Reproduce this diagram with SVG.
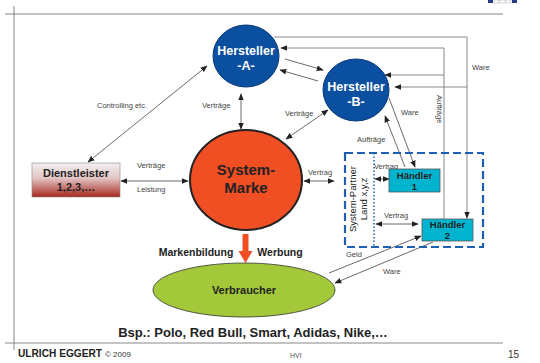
<svg xmlns="http://www.w3.org/2000/svg" width="540" height="363" viewBox="0 0 540 363">
<style>
text{font-family:"Liberation Sans",Arial,sans-serif}
.lbl{font-size:7.5px;fill:#444}
.wb{font-weight:bold;fill:#fff;font-size:12.5px;text-anchor:middle}
.db{font-weight:bold;fill:#222;text-anchor:middle}
.ln{stroke:#444;stroke-width:0.8;fill:none}
.gl{stroke:#888;stroke-width:1;fill:none}
</style>
<defs>
<marker id="ah" viewBox="0 0 10 10" refX="9" refY="5" markerWidth="7" markerHeight="7" orient="auto-start-reverse" markerUnits="userSpaceOnUse">
<path d="M0,1 L10,5 L0,9 z" fill="#222"/>
</marker>
<linearGradient id="dg" x1="0" y1="0" x2="0" y2="1">
<stop offset="0" stop-color="#f4f0f0"/>
<stop offset="0.45" stop-color="#e2c4c4"/>
<stop offset="1" stop-color="#a8281c"/>
</linearGradient>
</defs>
<rect width="540" height="363" fill="#fff"/>
<g id="frame">
<line x1="5" y1="14" x2="503" y2="14" stroke="#888" stroke-width="1"/>
<line x1="14" y1="6" x2="14" y2="350" stroke="#666" stroke-width="0.8"/>
<line x1="5" y1="343" x2="503" y2="343" stroke="#888" stroke-width="1"/>
<rect x="488" y="0" width="5" height="3" fill="#2a3a8a"/>
<rect x="494" y="0" width="5" height="3" fill="#fff" stroke="#aab" stroke-width="0.5"/>
<rect x="500" y="0" width="5" height="3" fill="#fff" stroke="#aab" stroke-width="0.5"/>
<rect x="506" y="0" width="5" height="3" fill="#fff" stroke="#aab" stroke-width="0.5"/>
<rect x="512" y="0" width="5" height="3" fill="#2a3a8a"/>
</g>
<g id="connectors">
<line class="ln" x1="88" y1="162" x2="207" y2="66" marker-start="url(#ah)" marker-end="url(#ah)"/>
<line class="ln" x1="241" y1="94" x2="241" y2="129" marker-start="url(#ah)" marker-end="url(#ah)"/>
<line class="ln" x1="286" y1="139" x2="328" y2="110" marker-start="url(#ah)" marker-end="url(#ah)"/>
<line class="ln" x1="285" y1="59" x2="323" y2="70" marker-end="url(#ah)"/>
<line class="ln" x1="318" y1="81" x2="280" y2="70" marker-end="url(#ah)"/>
<line class="ln" x1="121" y1="181" x2="188" y2="181" marker-start="url(#ah)" marker-end="url(#ah)"/>
<line class="ln" x1="304" y1="181" x2="334" y2="181" marker-start="url(#ah)" marker-end="url(#ah)"/>
<polyline class="gl" points="274,37 467,37 467,218" marker-end="url(#ah)"/>
<line class="gl" x1="467" y1="87" x2="395" y2="87" marker-end="url(#ah)"/>
<polyline class="gl" points="444,219 444,48 281,48" marker-end="url(#ah)"/>
<line class="gl" x1="444" y1="75" x2="385" y2="75" marker-end="url(#ah)"/>
<line class="ln" x1="389" y1="98" x2="415" y2="167" marker-end="url(#ah)"/>
<line class="ln" x1="405" y1="167" x2="385" y2="116" marker-end="url(#ah)"/>
<line class="ln" x1="375" y1="179" x2="389" y2="179" marker-start="url(#ah)" marker-end="url(#ah)"/>
<line class="ln" x1="376" y1="224" x2="418" y2="224" marker-start="url(#ah)" marker-end="url(#ah)"/>
<line class="ln" x1="329" y1="273" x2="421" y2="236" marker-end="url(#ah)"/>
<line class="ln" x1="433" y1="242" x2="335" y2="283" marker-end="url(#ah)"/>
<path d="M242.5,234 h6 v17 h4 l-7,12 l-7,-12 h4 z" fill="#f04e23"/>
</g>
<g class="labels">
<text class="lbl" x="97" y="108">Controlling etc.</text>
<text class="lbl" x="202" y="108">Verträge</text>
<text class="lbl" x="285" y="116">Verträge</text>
<text class="lbl" x="137" y="168">Verträge</text>
<text class="lbl" x="137" y="192">Leistung</text>
<text class="lbl" x="308" y="175">Vertrag</text>
<text class="lbl" x="472" y="70">Ware</text>
<text class="lbl" x="401" y="115">Ware</text>
<text class="lbl" x="357" y="142">Aufträge</text>
<text class="lbl" transform="translate(437,95) rotate(90)">Aufträge</text>
<text class="lbl" x="374" y="169">Vertrag</text>
<text class="lbl" x="384" y="218">Vertrag</text>
<text class="lbl" x="346" y="257">Geld</text>
<text class="lbl" x="383" y="274">Ware</text>
<text class="db" x="196" y="256" font-size="10.5">Markenbildung</text>
<text class="db" x="280" y="256" font-size="10.5">Werbung</text>
</g>
<g id="hersteller-a">
<ellipse cx="246" cy="56" rx="33" ry="31" fill="#0a4fa0" stroke="#083a78" stroke-width="1"/>
<text class="wb" x="246" y="55">Hersteller</text>
<text class="wb" x="246" y="70">-A-</text>
</g>
<g id="hersteller-b">
<ellipse cx="356" cy="90" rx="33" ry="31" fill="#0a4fa0" stroke="#083a78" stroke-width="1"/>
<text class="wb" x="356" y="91">Hersteller</text>
<text class="wb" x="356" y="106">-B-</text>
</g>
<g id="system-marke">
<ellipse cx="246" cy="180" rx="56" ry="50" fill="#f04e23" stroke="#222" stroke-width="2"/>
<text class="db" x="246" y="175" font-size="15">System-</text>
<text class="db" x="246" y="193" font-size="15">Marke</text>
</g>
<g id="dienstleister">
<rect x="32" y="163" width="88" height="34" fill="url(#dg)" stroke="#888" stroke-width="0.6"/>
<text class="db" x="76" y="177" font-size="11">Dienstleister</text>
<text class="db" x="76" y="191" font-size="11">1,2,3,…</text>
</g>
<g id="system-partner">
<rect x="345" y="153" width="138" height="94" fill="none" stroke="#1f5fb0" stroke-width="2.2" stroke-dasharray="8,4"/>
<line x1="374" y1="153" x2="374" y2="247" stroke="#1f5fb0" stroke-width="1.5" stroke-dasharray="1.5,2"/>
<text font-size="9.5" fill="#222" text-anchor="middle" transform="translate(356,199) rotate(-90)">System-Partner</text>
<text font-size="9.5" fill="#222" text-anchor="middle" transform="translate(367,199) rotate(-90)">Land x,y,z</text>
</g>
<g id="haendler-1">
<rect x="389" y="169" width="51" height="23" fill="#00b4d0" stroke="#555" stroke-width="0.8"/>
<text class="db" x="414.5" y="179" font-size="9.5">Händler</text>
<text class="db" x="414.5" y="190" font-size="9.5">1</text>
</g>
<g id="haendler-2">
<rect x="422" y="219" width="51" height="22" fill="#00b4d0" stroke="#555" stroke-width="0.8"/>
<text class="db" x="447.5" y="228" font-size="9.5">Händler</text>
<text class="db" x="447.5" y="239" font-size="9.5">2</text>
</g>
<g id="verbraucher">
<ellipse cx="244" cy="290" rx="91" ry="27" fill="#a3c93a" stroke="#333" stroke-width="0.8"/>
<text class="db" x="244" y="294" font-size="11">Verbraucher</text>
</g>
<g id="footer">
<text class="db" x="253" y="337" font-size="13">Bsp.: Polo, Red Bull, Smart, Adidas, Nike,…</text>
<text x="18" y="357" font-size="10" font-weight="bold" fill="#222" textLength="84" lengthAdjust="spacingAndGlyphs">ULRICH EGGERT</text>
<text x="105" y="357" font-size="8" fill="#333">© 2009</text>
<text x="290" y="358" font-size="7" fill="#555">HVI</text>
<text x="508" y="358" font-size="10" fill="#333">15</text>
</g>
</svg>
